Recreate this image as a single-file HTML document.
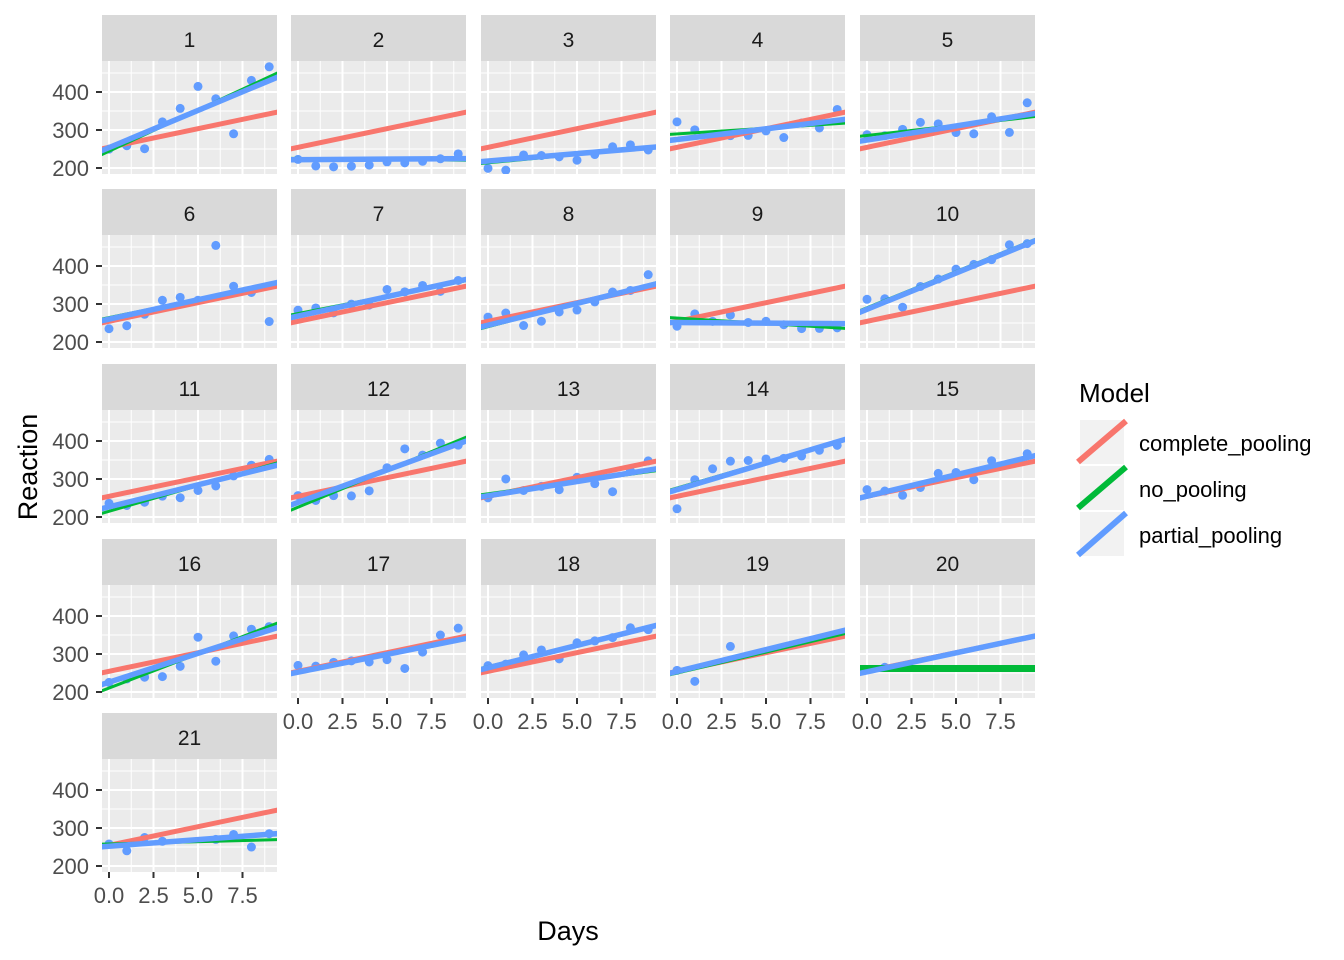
<!DOCTYPE html>
<html><head><meta charset="utf-8"><style>
html,body{margin:0;padding:0;background:#fff;}
svg{display:block;font-family:"Liberation Sans",Arial,sans-serif;}
</style></head><body>
<svg id="chart" width="1344" height="960" viewBox="0 0 1344 960" xmlns="http://www.w3.org/2000/svg">
<g id="panels"></g>
<text x="568" y="940" font-size="27" text-anchor="middle" fill="#000">Days</text>
<text transform="translate(37,467) rotate(-90)" font-size="27" text-anchor="middle" fill="#000">Reaction</text>
<g>
<text x="1079" y="402" font-size="26" fill="#000">Model</text>
<g>
<rect x="1080" y="420" width="44" height="44" fill="#f2f2f2"/>
<line x1="1078" y1="462" x2="1126" y2="421" stroke="#F8766D" stroke-width="6"/>
<text x="1139" y="451" font-size="22" fill="#000">complete_pooling</text></g>
<g>
<rect x="1080" y="466" width="44" height="44" fill="#f2f2f2"/>
<line x1="1078" y1="508" x2="1126" y2="467" stroke="#00BA38" stroke-width="6"/>
<text x="1139" y="497" font-size="22" fill="#000">no_pooling</text></g>
<g>
<rect x="1080" y="512" width="44" height="44" fill="#f2f2f2"/>
<line x1="1078" y1="555" x2="1126" y2="513" stroke="#619CFF" stroke-width="6"/>
<text x="1139" y="543" font-size="22" fill="#000">partial_pooling</text></g>
</g>
</svg>
<script>
// ---- data ----
const days = [0,1,2,3,4,5,6,7,8,9];
const reactions = [
 [249.6,258.7,250.8,321.4,356.9,414.7,382.2,290.1,430.6,466.4],
 [222.7,205.3,203.0,204.7,207.7,216.0,213.6,217.7,224.3,237.3],
 [199.1,194.3,234.3,232.8,229.3,220.5,235.4,255.8,261.0,247.5],
 [321.5,300.4,283.9,285.1,285.8,297.6,280.2,318.3,305.4,354.0],
 [287.6,285.0,301.8,320.1,316.3,293.3,290.1,334.8,293.7,371.6],
 [234.9,242.8,273.0,309.8,317.5,310.0,454.2,346.8,330.3,253.9],
 [283.8,289.6,276.8,299.8,297.2,338.2,332.0,348.8,333.4,362.0],
 [265.5,276.2,243.4,254.7,279.0,284.2,305.5,331.5,335.7,377.3],
 [241.6,273.9,254.4,270.8,251.5,254.6,245.5,235.3,235.8,237.3],
 [312.4,313.8,291.6,346.1,365.7,391.8,404.3,416.7,455.9,458.9],
 [236.1,230.3,238.9,254.9,250.7,269.8,281.6,308.1,336.3,351.6],
 [256.3,243.5,256.2,255.5,268.9,329.7,379.4,362.9,394.5,389.1],
 [250.5,300.1,269.9,280.6,271.8,304.6,287.7,266.6,321.5,347.6],
 [221.7,298.2,326.9,346.9,348.7,352.8,354.4,360.4,375.6,388.5],
 [271.9,268.4,257.2,277.7,314.8,317.2,298.1,348.1,340.3,366.5],
 [225.3,234.5,238.9,240.5,267.5,344.2,281.1,347.6,365.2,372.2],
 [270.0,268.0,278.0,282.0,279.0,285.0,262.0,305.0,350.0,368.0],
 [269.4,273.5,297.6,310.6,287.2,329.6,334.5,343.2,369.1,364.1],
 [257,228,null,320,null,null,null,null,null,null],
 [null,265,null,null,null,null,null,null,null,null],
 [258,240,275,265,null,null,270,283,250,285]
];
const completeIntercept = 254.5;
const completeSlope = 9.8;
const noPoolIntercepts = [244.2,225.1,213.5,289.7,285.7,264.3,275.0,240.2,263.0,290.1,215.1,225.8,261.1,276.4,255.0,210.4,253.6,267.0,250,262,258];
const noPoolSlopes =     [21.76,-0.5,4.5,3.01,5.27,9.57,9.14,12.25,-2.88,19.03,13.49,19.50,6.43,13.57,11.35,18.06,9.19,11.30,11,0,1.2];
const partialIntercepts = [253.6,222.0,218.4,275.1,273.6,260.2,268.3,244.2,251.2,286.0,226.7,238.3,255.9,272.0,254.7,225.8,252.2,263.7,254,253,252];
const partialSlopes =     [19.6,0.3,3.9,5.6,7.4,10.2,10.2,11.5,-0.3,19.1,11.6,17.1,7.5,14.0,11.3,15.2,9.4,11.8,11.5,10,3.5];
const yTicks = [200,300,400];
const yMinor = [250,350,450];
const xTicks = [0,2.5,5,7.5];
const xTickLabels = ["0.0","2.5","5.0","7.5"];
const xMinor = [1.25,3.75,6.25,8.75];

// ---- layout ----
const NS = "http://www.w3.org/2000/svg";
const colLeft = [102,291,481,670,860];
const rowTop = [15,189,364,539,713];
const PW = 175, SH = 46, PH = 113;
const X0 = 7, XS = 17.8, YMAX = 481.6, YS = 0.38;
const root = document.getElementById('panels');
function mk(tag, attrs, parent){ const e=document.createElementNS(NS,tag); for(const k in attrs) e.setAttribute(k,attrs[k]); parent.appendChild(e); return e; }
const defs = mk('defs',{},root);

for(let i=0;i<21;i++){
  const c=i%5, r=Math.floor(i/5);
  const L=colLeft[c], T=rowTop[r]+SH;
  const xs=d=>L+X0+d*XS, ys=v=>T+(YMAX-v)*YS;
  const g=mk('g',{},root);
  
  
  const strip=mk('rect',{x:L,y:rowTop[r],width:PW,height:SH,fill:'#d9d9d9'},g);
  
  
  const st=mk('text',{x:L+PW/2,y:rowTop[r]+32,'font-size':21,'text-anchor':'middle',fill:'#1a1a1a'},g);
  st.textContent=String(i+1);
  
  
  mk('rect',{x:L,y:T,width:PW,height:PH,fill:'#ebebeb'},g);
  const cp=mk('clipPath',{id:'cp'+i},defs);
  mk('rect',{x:L,y:T,width:PW,height:PH},cp);
  const inner=mk('g',{'clip-path':'url(#cp'+i+')'},g);
  yMinor.forEach(v=>mk('line',{x1:L,x2:L+PW,y1:ys(v),y2:ys(v),stroke:'#fff','stroke-width':1},inner));
  xMinor.forEach(d=>mk('line',{x1:xs(d),x2:xs(d),y1:T,y2:T+PH,stroke:'#fff','stroke-width':1},inner));
  yTicks.forEach(v=>mk('line',{x1:L,x2:L+PW,y1:ys(v),y2:ys(v),stroke:'#fff','stroke-width':2},inner));
  xTicks.forEach(d=>mk('line',{x1:xs(d),x2:xs(d),y1:T,y2:T+PH,stroke:'#fff','stroke-width':2},inner));
  const d0=-0.5,d1=9.6;
  reactions[i].forEach((v,k)=>{ if(v===null) return;
    const p=mk('circle',{cx:xs(days[k]),cy:ys(v),r:4.5,fill:'#619CFF'},inner);
    
    
  });
  const lines=[[completeIntercept,completeSlope,'#F8766D',5,'complete-pooling-line'],
               [noPoolIntercepts[i],noPoolSlopes[i],'#00BA38',i===19?7:3,'no-pooling-line'],
               [partialIntercepts[i],partialSlopes[i],'#619CFF',5.5,'partial-pooling-line']];
  lines.forEach(([a,b,col,w,nm])=>{
    const ln=mk('line',{x1:xs(d0),y1:ys(a+b*d0),x2:xs(d1),y2:ys(a+b*d1),stroke:col,'stroke-width':w},inner);
    
    
  });
  if(c===0){
    yTicks.forEach(v=>{
      mk('line',{x1:L-6,x2:L,y1:ys(v),y2:ys(v),stroke:'#333','stroke-width':2},g);
      const t=mk('text',{x:L-13,y:ys(v)+8,'font-size':22,'text-anchor':'end',fill:'#4d4d4d'},g);
      t.textContent=String(v);
      
      
    });
  }
  if(i>=16){
    xTicks.forEach((d,k)=>{
      mk('line',{x1:xs(d),x2:xs(d),y1:T+PH,y2:T+PH+6,stroke:'#333','stroke-width':2},g);
      const t=mk('text',{x:xs(d),y:T+PH+31,'font-size':22,'text-anchor':'middle',fill:'#4d4d4d'},g);
      t.textContent=xTickLabels[k];
      
      
    });
  }
}
</script>
</body></html>
